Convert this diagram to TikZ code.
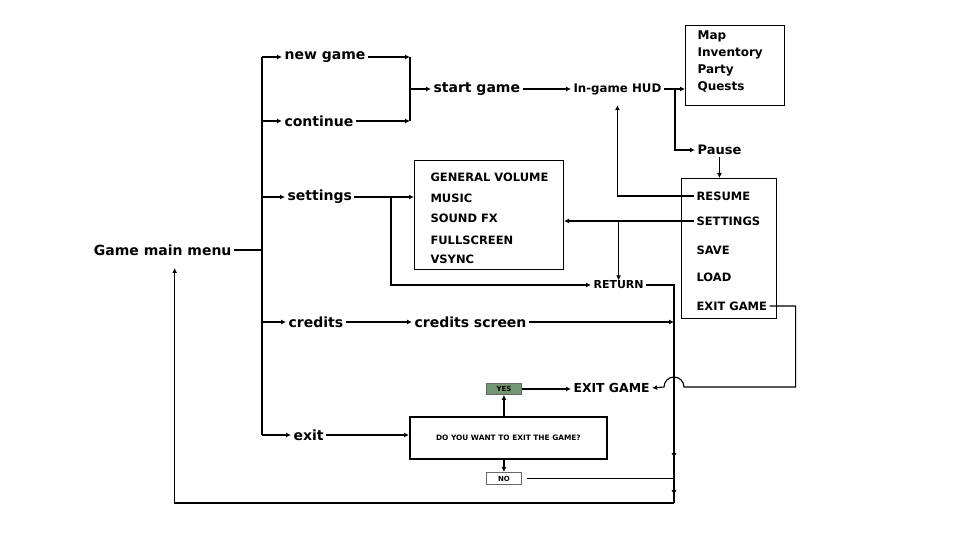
\documentclass[tikz,border=0pt]{standalone}
\usepackage{fontspec}
\setmainfont{DejaVu Sans}
\usetikzlibrary{positioning,arrows.meta,calc,decorations.markings}

\begin{document}
\begin{tikzpicture}[x=1pt,y=-1pt,line width=1.1pt,
  arr/.style={-{Latex[length=5pt,width=5pt]}},
  lbl/.style={font=\bfseries\fontsize{14}{16}\selectfont,inner sep=2pt,anchor=west},
  capitem/.style={font=\bfseries\fontsize{11.5}{14}\selectfont,inner sep=2pt,anchor=west},
  box/.style={draw,anchor=north west,inner sep=0pt},
  tag/.style={draw=black!60,line width=0.9pt,anchor=north west,inner sep=0pt,
    font=\bfseries\fontsize{7}{8}\selectfont}]
\colorlet{yesfill}{green!25!black!55}
\useasboundingbox (0,0) rectangle (960,540);
% ===== main menu and its branches =====
\node[lbl,anchor=east] (menu) at (234,250) {Game main menu};
\coordinate (trunk) at (262,250);
\node[lbl] (newgame) at (282,57) {new game};
\node[lbl] (cont) at (282,121) {continue};
\node[lbl] (settings) at (285,197) {settings};
\node[lbl] (credits) at (286,322) {credits};
\node[lbl] (exit) at (291,435) {exit};
\draw (menu.east) -- (trunk);
\draw (trunk |- newgame) -- (trunk |- exit);
\foreach \n in {newgame,cont,settings,credits,exit}{\draw[arr] (trunk |- \n) -- (\n.west);}
% ===== start game / HUD =====
\coordinate (join) at (410,89);
\node[lbl] (start) at (431,89) {start game};
\node[lbl,font=\bfseries\fontsize{11.8}{14}\selectfont] (hud) at (571,89) {In-game HUD};
\node[box,minimum width=99,minimum height=80] (hudbox) at (685,25) {};
\node[anchor=north west,inner sep=0pt,align=left,
  font=\bfseries\fontsize{12}{17}\selectfont] (hudlist) at (697,30)
  {Map\\Inventory\\Party\\Quests};
\draw[arr] (newgame.east) -- (join |- newgame);
\draw[arr] (cont.east) -- (join |- cont);
\draw (join |- newgame) -- (join |- cont);
\draw[arr] (join) -- (start.west);
\draw[arr] (start.east) -- (hud.west);
\draw[arr] (hud.east) -- (hudbox.west |- hud);
\coordinate (hudsplit) at (675,89);
\node[lbl,font=\bfseries\fontsize{13}{15}\selectfont] (pause) at (695,150) {Pause};
\draw[arr] (hudsplit) |- (pause.west);
% ===== pause menu =====
\node[box,minimum width=95,minimum height=140] (pausebox) at (681,178) {};
\node[capitem] (resume) at (694,196) {RESUME};
\node[capitem] (pset) at (694,221) {SETTINGS};
\node[capitem] (save) at (694,250) {SAVE};
\node[capitem] (load) at (694,277) {LOAD};
\node[capitem] (pexit) at (694,306) {EXIT GAME};
\draw[arr] (pause.south) -- (pause.south |- pausebox.north);
\draw[arr] (resume.west) -| ([yshift=-8pt]hud.south);
% ===== settings panel =====
\node[box,minimum width=149,minimum height=109] (setbox) at (414,160) {};
\foreach \t/\y in {GENERAL VOLUME/177,MUSIC/198,SOUND FX/218,FULLSCREEN/240,VSYNC/259}
  {\node[capitem] at (428,\y) {\t};}
\node[capitem,font=\bfseries\fontsize{11}{13}\selectfont] (ret) at (591,285) {RETURN};
\coordinate (setsplit) at (391,197);
\draw[arr] (settings.east) -- (setbox.west |- settings);
\draw[arr] (setsplit) |- (ret.west);
\draw[arr] (pset.west) -- (setbox.east |- pset);
\draw[arr] (ret.north |- pset) -- ([yshift=-2pt]ret.north);
% ===== right rail back to main menu =====
\coordinate (railend) at (674,503);
\draw[decoration={markings,
    mark=at position 201pt with {\arrow{Latex[length=5pt,width=5pt]}},
    mark=at position 238pt with {\arrow{Latex[length=5pt,width=5pt]}}},
  postaction=decorate] (ret.east) -| (railend);
\draw[arr] (railend) -| ([xshift=12pt,yshift=-10pt]menu.south);
% ===== credits =====
\node[lbl] (crscreen) at (412,322) {credits screen};
\draw[arr] (credits.east) -- (crscreen.west);
\draw[arr] (crscreen.east) -- (railend |- crscreen);
% ===== exit dialog =====
\node[box,line width=1.8pt,minimum width=197,minimum height=42,
  font=\bfseries\fontsize{7.4}{9}\selectfont] (ask) at (409,416) {DO YOU WANT TO EXIT THE GAME?};
\node[tag,fill=yesfill,minimum width=35,minimum height=11] (yes) at (486,383) {YES};
\node[tag,fill=white,minimum width=35,minimum height=12] (no) at (486,472) {NO};
\node[capitem,font=\bfseries\fontsize{12.4}{14}\selectfont] (exitgame) at (571,388) {EXIT GAME};
\draw[arr] (exit.east) -- (ask.west |- exit);
\draw[arr] (yes.south |- ask.north) -- (yes.south);
\draw[arr] (no.north |- ask.south) -- (no.north);
\draw[arr] (yes.east) -- (exitgame.west |- yes.east);
\draw ([xshift=5pt]no.east) -- (railend |- no);
% exit from pause menu, hopping over the rail
\draw[arr] (pexit.east) -- ++(26,0) |- ($(railend |- exitgame)+(10,-1)$)
  arc[start angle=0,end angle=-180,radius=10] -- (exitgame.east);
\end{tikzpicture}
\end{document}
